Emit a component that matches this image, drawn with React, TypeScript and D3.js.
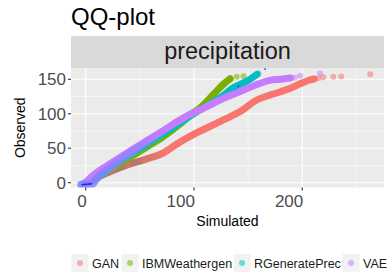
import * as d3 from "d3";

// quantile pairs [simulated, observed]
const ganBand = [[0, 0], [5, 3], [11, 8], [24, 17], [39, 26], [54.5, 33.5], [70, 42], [85, 57], [95, 66], [106, 75], [124, 88.5], [143, 103.5], [158, 120], [170, 127], [180, 132], [189, 137], [198, 143.5], [207, 149], [211, 150.5]];
const ganTail = [[215, 151.5], [219.5, 152.8], [228.7, 153.6], [236, 154.2], [262.8, 157.5]];
const ibmBand = [[0, 0], [10, 7], [24, 21], [39, 35], [54.5, 50], [70, 65], [87, 85], [97, 99], [106, 109], [118, 128], [127, 142.6], [133.4, 150.7]];
const ibmTail = [[139.5, 153.6], [145.7, 154.5]];
const rgenBand = [[0, 0], [8, 5], [24, 24], [39, 39], [54.5, 54], [70, 69], [87, 87], [106, 106], [124, 123], [136, 137.5], [149, 147.4], [158, 157]];
const rgenTail = [[159.5, 158.5]];
const vaeBand = [[0, 0], [5, 8], [14, 19], [24, 29], [39, 44], [54.5, 59], [70, 74], [85, 89], [95, 98], [106, 106], [124, 120], [143, 132.5], [158, 142.5], [170, 148.5], [180, 150], [189, 152]];
const vaeTail = [[193, 152.5], [198, 155], [216.5, 158.5]];
const blueBand = [[-4, -3], [6, -1.5], [10, 6], [22, 21], [35, 36], [50, 52], [66, 68]];
const blueTail = [[141, 140], [165.7, 164.8]];

const series = ["GAN", "IBMWeathergen", "RGeneratePrec", "VAE"];
const colors = ["#F8766D", "#7CAE00", "#00BFC4", "#C77CFF"];
const bands = [ganBand, ibmBand, rgenBand, vaeBand];
const tails = [ganTail, ibmTail, rgenTail, vaeTail];

const xMajor = [0, 100, 200];
const xMinor = [50, 150, 250];
const yMajor = [0, 50, 100, 150];
const yMinor = [25, 75, 125];

const App = () => {
  const width = 387,
    height = 272;
  const pLeft = 71,
    pRight = 384,
    pTop = 68,
    pBottom = 187.5;
  const font = "'Liberation Sans', Arial, sans-serif";

  const x = d3.scaleLinear([-13.6, 275.5], [pLeft, pRight]);
  const y = d3.scaleLinear([-7, 166.4], [pBottom, pTop]);
  const line = d3
    .line()
    .x((d) => x(d[0]))
    .y((d) => y(d[1]))
    .curve(d3.curveCatmullRom.alpha(0.5));

  const legendDotX = [80, 130, 242, 351];

  return (
    <svg width={width} height={height} style={{ position: "absolute", left: 0, top: 0 }} fontFamily={font}>
      <defs>
        <clipPath id="panel">
          <rect x={pLeft} y={pTop} width={pRight - pLeft} height={pBottom - pTop} />
        </clipPath>
        <linearGradient id="ganGrad" gradientUnits="userSpaceOnUse" x1={x(0)} x2={x(75)} y1={0} y2={0}>
          <stop offset="0" stopColor="#9a7d6e" />
          <stop offset="0.6" stopColor="#b8766a" />
          <stop offset="1" stopColor="#F8766D" />
        </linearGradient>
        <linearGradient id="blueGrad" gradientUnits="userSpaceOnUse" x1={x(0)} x2={x(72)} y1={0} y2={0}>
          <stop offset="0" stopColor="#8080ff" stopOpacity="0.9" />
          <stop offset="0.65" stopColor="#8c84ff" stopOpacity="0.65" />
          <stop offset="1" stopColor="#9a80ff" stopOpacity="0" />
        </linearGradient>
      </defs>
      <rect width={width} height={height} fill="white" />
      <text x={pLeft} y={25} fontSize={24} fill="#000">QQ-plot</text>

      <rect x={pLeft} y={36} width={pRight - pLeft} height={pTop - 36} fill="#D9D9D9" />
      <text x={(pLeft + pRight) / 2} y={59} fontSize={23.5} textAnchor="middle" fill="#1A1A1A">precipitation</text>

      <rect x={pLeft} y={pTop} width={pRight - pLeft} height={pBottom - pTop} fill="#EBEBEB" />
      <g stroke="white">
        {xMinor.map((t) => (
          <line key={"xm" + t} x1={x(t)} x2={x(t)} y1={pTop} y2={pBottom} strokeWidth={0.55} />
        ))}
        {yMinor.map((t) => (
          <line key={"ym" + t} x1={pLeft} x2={pRight} y1={y(t)} y2={y(t)} strokeWidth={0.55} />
        ))}
        {xMajor.map((t) => (
          <line key={"xM" + t} x1={x(t)} x2={x(t)} y1={pTop} y2={pBottom} strokeWidth={1.1} />
        ))}
        {yMajor.map((t) => (
          <line key={"yM" + t} x1={pLeft} x2={pRight} y1={y(t)} y2={y(t)} strokeWidth={1.1} />
        ))}
      </g>

      <g clipPath="url(#panel)">
        {bands.map((b, i) => (
          <g key={series[i]}>
            <path
              d={line(b)}
              fill="none"
              stroke={i === 0 ? "url(#ganGrad)" : colors[i]}
              strokeWidth={7}
              strokeLinecap="round"
              strokeLinejoin="round"
            />
            {b.map((d, j) => (
              <circle key={j} cx={x(d[0])} cy={y(d[1])} r={3.2} fill={colors[i]} opacity={0.35} />
            ))}
            {tails[i].map((d, j) => (
              <circle key={"t" + j} cx={x(d[0])} cy={y(d[1])} r={3} fill={colors[i]} opacity={0.55} />
            ))}
          </g>
        ))}
        <path d={line(blueBand)} fill="none" stroke="url(#blueGrad)" strokeWidth={8} strokeLinecap="round" />
        <path d={line(blueBand.slice(0, 2))} fill="none" stroke="#2020ff" strokeWidth={1.5} />
        {blueTail.map((d, j) => (
          <circle key={j} cx={x(d[0])} cy={y(d[1])} r={0.9} fill="#2a2aff" />
        ))}
      </g>

      <g stroke="#333333" strokeWidth={1.1}>
        {yMajor.map((t) => (
          <line key={t} x1={pLeft - 3} x2={pLeft} y1={y(t)} y2={y(t)} />
        ))}
        {xMajor.map((t) => (
          <line key={t} x1={x(t)} x2={x(t)} y1={pBottom} y2={pBottom + 3} />
        ))}
      </g>
      <g fontSize={17} fill="#4D4D4D">
        {yMajor.map((t) => (
          <text key={t} x={pLeft - 5} y={y(t)} dy="0.36em" textAnchor="end">{t}</text>
        ))}
        {xMajor.map((t) => (
          <text key={t} x={x(t) + 1} y={206.5} textAnchor="end">{t}</text>
        ))}
      </g>
      <text x={(pLeft + pRight) / 2} y={226} fontSize={14} textAnchor="middle" fill="#000">Simulated</text>
      <text transform={`translate(25, ${(pTop + pBottom) / 2}) rotate(-90)`} fontSize={14} textAnchor="middle" fill="#000">Observed</text>

      <g>
        {series.map((s, i) => (
          <g key={s}>
            <rect x={legendDotX[i] - 8.5} y={254} width={17} height={18} fill="#F2F2F2" />
            <circle cx={legendDotX[i]} cy={263} r={3} fill={colors[i]} opacity={0.55} />
            <text x={legendDotX[i] + 12} y={267.5} fontSize={12.5} fill="#1A1A1A">{s}</text>
          </g>
        ))}
      </g>
    </svg>
  );
};

export default App;
